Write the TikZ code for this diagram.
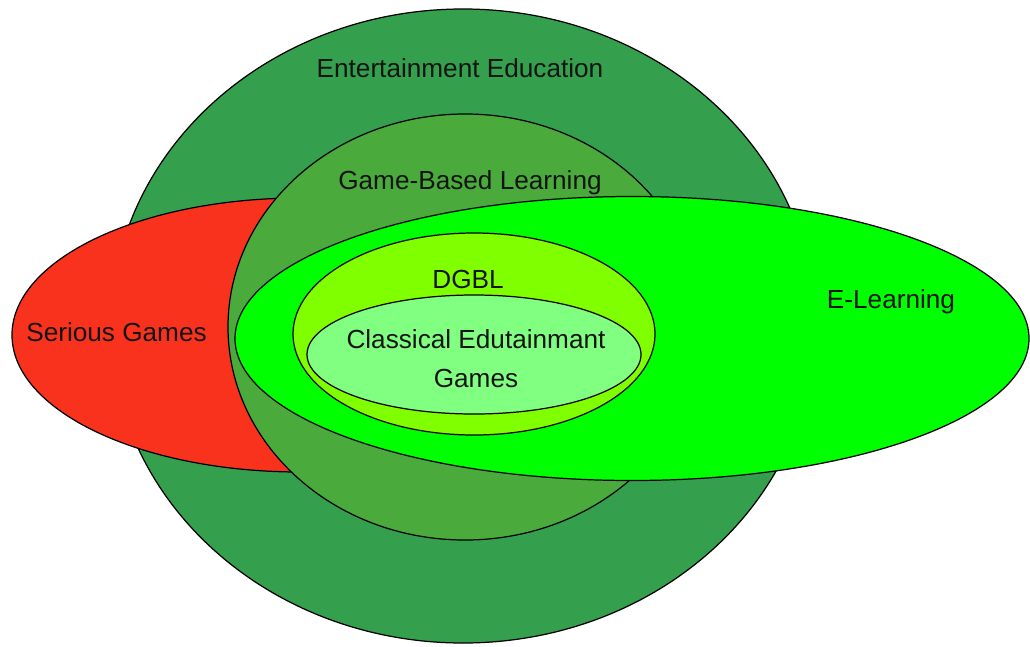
\documentclass[tikz,border=0pt]{standalone}
\usepackage{fontspec}
\setmainfont{Liberation Sans}
\definecolor{eeGreen}{RGB}{52,160,77}
\definecolor{gblGreen}{RGB}{74,170,60}
\definecolor{sgRed}{RGB}{249,50,30}
\definecolor{elGreen}{RGB}{0,255,0}
\definecolor{dgblGreen}{RGB}{128,255,0}
\definecolor{ceGreen}{RGB}{128,255,128}
\definecolor{txt}{RGB}{20,20,20}
\tikzset{
  blob/.style={draw=black, line width=0.7pt},
  lbl/.style={font=\fontsize{14.9}{22.1}\selectfont, text=txt, inner sep=0pt, align=center}
}
\begin{document}
\begin{tikzpicture}[x=0.02cm,y=-0.02cm]
\useasboundingbox (0,0) rectangle (1030,646);
% shapes
\filldraw[blob, fill=eeGreen] (463,326) ellipse [x radius=352, y radius=317];
\filldraw[blob, fill=sgRed] (300,335) ellipse [x radius=288, y radius=137];
\filldraw[blob, fill=gblGreen] (465,327) ellipse [x radius=237, y radius=213];
\filldraw[blob, fill=elGreen] (632,338.5) ellipse [x radius=397, y radius=142];
\filldraw[blob, fill=dgblGreen] (474,334) ellipse [x radius=181, y radius=101];
\filldraw[blob, fill=ceGreen] (474,354.5) ellipse [x radius=167, y radius=59.5];
% labels
\node[lbl] (ee) at (460,68) {Entertainment Education};
\node[lbl] (gbl) at (470,183) {Game-Based Learning};
\node[lbl] (sg) at (116.5,332) {Serious Games};
\node[lbl] (el) at (891,302) {E-Learning};
\node[lbl] (dgbl) at (468,279) {DGBL};
\node[lbl] (ce) at (476,359) {Classical Edutainmant\\Games};
\end{tikzpicture}
\end{document}
